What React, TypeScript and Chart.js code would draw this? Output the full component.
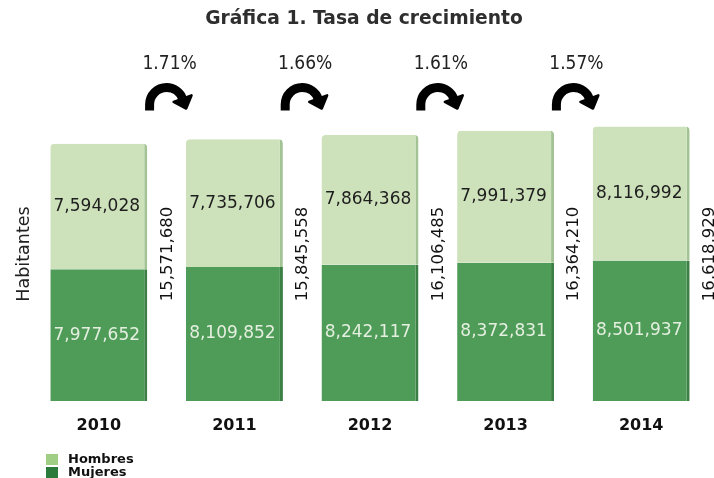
import React, { useEffect, useRef } from "react";
import { Chart, registerables } from "chart.js";

Chart.register(...registerables);

const years = ["2010", "2011", "2012", "2013", "2014"];
const hombres = [7594028, 7735706, 7864368, 7991379, 8116992];
const mujeres = [7977652, 8109852, 8242117, 8372831, 8501937];
const totals = [15571680, 15845558, 16106485, 16364210, 16618929];
const growth = ["1.71%", "1.66%", "1.61%", "1.57%"];
const yMax = 17800000;
const titleText = "Gráfica 1. Tasa de crecimiento";
const yTitle = "Habitantes";
const seriesNames = ["Hombres", "Mujeres"];

const LIGHT = "#cde1ba";
const LIGHT_EDGE = "#a3c394";
const DARK = "#4f9c59";
const DARK_EDGE = "#3c7f45";
const LEG_LIGHT = "#9fce84";
const LEG_DARK = "#2b7b3c";

const fmt = (v: number) => v.toLocaleString("en-US");

function drawArrow(ctx: CanvasRenderingContext2D, cx: number, cy: number) {
  const r = 17;
  const te = -0.35;
  ctx.strokeStyle = "#000";
  ctx.fillStyle = "#000";
  ctx.lineWidth = 9;
  ctx.lineCap = "butt";
  ctx.beginPath();
  ctx.moveTo(cx - r, cy + 6);
  ctx.lineTo(cx - r, cy);
  ctx.arc(cx, cy, r, Math.PI, 2 * Math.PI + te);
  ctx.stroke();
  const ex = cx + r * Math.cos(te);
  const ey = cy + r * Math.sin(te);
  const dx = -Math.sin(te);
  const dy = Math.cos(te);
  const nx = Math.cos(te);
  const ny = Math.sin(te);
  ctx.lineJoin = "round";
  ctx.lineWidth = 2.5;
  ctx.beginPath();
  ctx.moveTo(ex + nx * 9.5, ey + ny * 9.5);
  ctx.lineTo(ex + dx * 10.5, ey + dy * 10.5);
  ctx.lineTo(ex - nx * 9.5, ey - ny * 9.5);
  ctx.closePath();
  ctx.fill();
  ctx.stroke();
}

const overlay = {
  id: "overlay",
  afterDatasetsDraw(chart: any) {
    const ctx: CanvasRenderingContext2D = chart.ctx;
    const area = chart.chartArea;
    const xs = chart.scales.x;
    const metaM = chart.getDatasetMeta(0);
    const metaH = chart.getDatasetMeta(1);
    ctx.save();

    // title
    ctx.textAlign = "center";
    ctx.textBaseline = "middle";
    ctx.fillStyle = "#2e2e2e";
    ctx.font = 'bold 18.7px "DejaVu Sans", sans-serif';
    ctx.fillText(titleText, chart.width / 2 + 7, 19);

    // inner labels
    ctx.font = '17px "DejaVu Sans", sans-serif';
    metaH.data.forEach((bar: any, i: number) => {
      const p = bar.getProps(["x", "y", "base"], true);
      ctx.fillStyle = "#1e1e1e";
      ctx.fillText(fmt(hombres[i]), p.x - 2, (p.y + p.base) / 2);
    });
    metaM.data.forEach((bar: any, i: number) => {
      const p = bar.getProps(["x", "y", "base"], true);
      ctx.fillStyle = "#e4efdf";
      ctx.fillText(fmt(mujeres[i]), p.x - 2, (p.y + p.base) / 2);
    });

    // rotated totals
    ctx.fillStyle = "#111";
    ctx.font = '16.5px "DejaVu Sans", sans-serif';
    metaH.data.forEach((bar: any, i: number) => {
      const p = bar.getProps(["x", "width"], true);
      ctx.save();
      ctx.translate(p.x + p.width / 2 + 20, (area.top + area.bottom) / 2);
      ctx.rotate(-Math.PI / 2);
      ctx.fillText(fmt(totals[i]), 0, 0);
      ctx.restore();
    });

    // growth arrows + labels
    growth.forEach((g, i) => {
      const mid = (xs.getPixelForValue(i) + xs.getPixelForValue(i + 1)) / 2;
      ctx.fillStyle = "#222";
      ctx.font = '19px "Liberation Sans Narrow", "DejaVu Sans Condensed", sans-serif';
      ctx.textAlign = "center";
      ctx.textBaseline = "middle";
      ctx.fillText(g, mid + 3, area.top - 43);
      drawArrow(ctx, mid, area.top - 2.5);
    });

    // legend
    const lx = area.left + 15;
    const ly = chart.height - 24;
    const legendColors = [LEG_LIGHT, LEG_DARK];
    seriesNames.forEach((name, i) => {
      ctx.fillStyle = legendColors[i];
      ctx.fillRect(lx, ly + i * 13, 12, 11);
      ctx.fillStyle = "#111";
      ctx.font = 'bold 13px "DejaVu Sans", sans-serif';
      ctx.textAlign = "left";
      ctx.textBaseline = "middle";
      ctx.fillText(name, lx + 22, ly + 6 + i * 12.5);
    });
    ctx.restore();
  },
};

export default function App() {
  const ref = useRef<HTMLCanvasElement | null>(null);
  useEffect(() => {
    document.body.style.margin = "0";
    const canvas = ref.current;
    if (!canvas) return;
    const chart = new Chart(canvas, {
      type: "bar",
      data: {
        labels: years,
        datasets: [
          {
            label: seriesNames[1],
            data: mujeres,
            backgroundColor: DARK,
            borderColor: DARK_EDGE,
            borderWidth: { top: 0, right: 3, bottom: 0, left: 0 },
            borderSkipped: false,
            barPercentage: 0.715,
            categoryPercentage: 1,
          },
          {
            label: seriesNames[0],
            data: hombres,
            backgroundColor: LIGHT,
            borderColor: LIGHT_EDGE,
            borderWidth: { top: 0, right: 3, bottom: 0, left: 0 },
            borderSkipped: false,
            borderRadius: { topLeft: 4, topRight: 4, bottomLeft: 0, bottomRight: 0 },
            barPercentage: 0.715,
            categoryPercentage: 1,
          },
        ],
      },
      options: {
        responsive: false,
        animation: false,
        devicePixelRatio: 1,
        layout: { padding: { top: 107, right: 5, left: 0, bottom: 0 } },
        plugins: {
          legend: { display: false },
          tooltip: { enabled: false },
          title: { display: false },
        },
        scales: {
          x: {
            stacked: true,
            grid: { display: false, drawTicks: false },
            border: { display: false },
            ticks: {
              color: "#111",
              padding: 15,
              font: { family: '"DejaVu Sans", sans-serif', size: 16, weight: "bold" },
            },
            afterFit: (s: any) => {
              s.height = 77;
            },
          },
          y: {
            stacked: true,
            min: 0,
            max: yMax,
            grid: { display: false, drawTicks: false },
            border: { display: false },
            ticks: { display: false },
            title: {
              display: true,
              text: yTitle,
              color: "#222",
              font: { family: '"DejaVu Sans", sans-serif', size: 17.5 },
              padding: { top: 14, bottom: 0 },
            },
            afterFit: (s: any) => {
              s.width = 31;
            },
          },
        },
      },
      plugins: [overlay],
    });
    return () => chart.destroy();
  }, []);
  return <canvas ref={ref} width={714} height={478} style={{ display: "block" }} />;
}
